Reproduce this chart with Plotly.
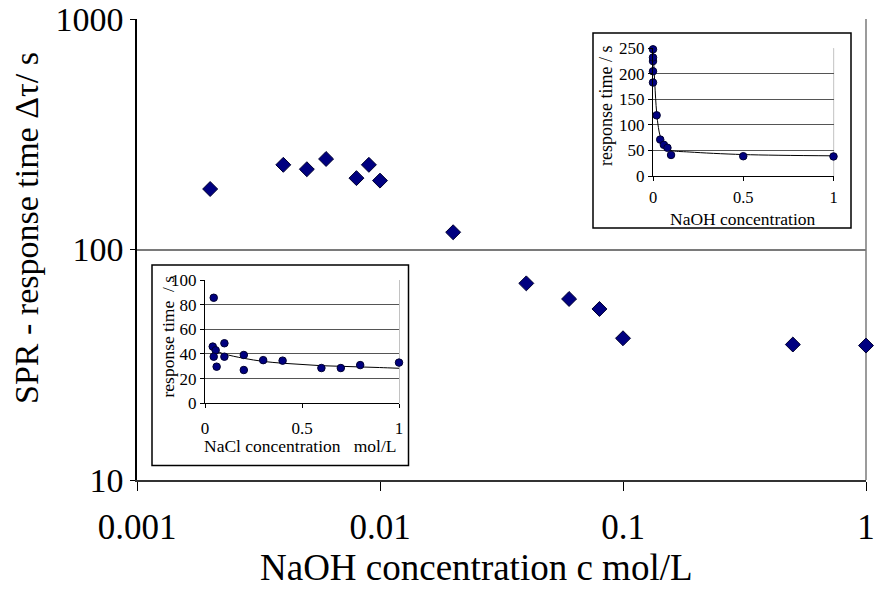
import plotly.graph_objects as go

# ---------------- data ----------------
# Main chart (log-log): NaOH concentration (mol/L) vs SPR response time (s)
naoh_conc = [0.002, 0.004, 0.005, 0.006, 0.008, 0.009, 0.01, 0.02, 0.04, 0.06, 0.08, 0.1, 0.5, 1.0]
naoh_time = [183, 233, 223, 247, 204, 233, 199, 118.8, 71.3, 61, 55.2, 41.2, 38.7, 38.3]

naoh_inset_conc = [0.0, 0.0, 0.0, 0.0, 0.0] + naoh_conc[7:]
naoh_inset_time = [183, 205, 225, 232, 248] + naoh_time[7:]
naoh_trend_x = [0.0, 0.005, 0.01, 0.02, 0.03, 0.04, 0.06, 0.08, 0.1, 0.2, 0.5, 1.0]
naoh_trend_y = [250, 215, 180, 125, 95, 78, 62, 54, 50, 47, 42, 39.5]

# NaCl inset (linear)
nacl_conc = [0.045, 0.04, 0.055, 0.045, 0.06, 0.1, 0.1, 0.2, 0.2, 0.3, 0.4, 0.6, 0.7, 0.8, 1.0]
nacl_time = [85.6, 46, 43, 37.8, 29.7, 48.7, 37.8, 39.2, 27, 35, 34.6, 28.6, 28.6, 31, 33]
nacl_trend_x = [0.02, 0.05, 0.1, 0.2, 0.3, 0.4, 0.5, 0.6, 0.7, 0.8, 0.9, 1.0]
nacl_trend_y = [46, 43, 40, 36.5, 34, 32.5, 31.5, 30.5, 30, 29.5, 29, 28.4]

main_xticks = [0.001, 0.01, 0.1, 1]
main_xticktext = ["0.001", "0.01", "0.1", "1"]
main_yticks = [10, 100, 1000]
main_yticktext = ["10", "100", "1000"]
naoh_yticks = [0, 50, 100, 150, 200, 250]
nacl_yticks = [0, 20, 40, 60, 80, 100]
inset_xticks = [0, 0.5, 1]
inset_xticktext = ["0", "0.5", "1"]

# ---------------- layout helpers ----------------
W, H = 874, 594
FONT = "Liberation Serif, Times New Roman, serif"
NAVY = "#000080"


def px(x):
    return x / W


def py(y):
    return 1 - y / H


fig = go.Figure()

# main scatter
fig.add_trace(go.Scatter(
    x=naoh_conc, y=naoh_time, mode="markers",
    marker=dict(symbol="diamond", size=11.5, color=NAVY, line=dict(color="#000030", width=1)),
    xaxis="x", yaxis="y", showlegend=False, cliponaxis=False))

# NaOH inset
fig.add_trace(go.Scatter(
    x=naoh_trend_x, y=naoh_trend_y, mode="lines", line=dict(color="#000000", width=1, shape="spline"),
    xaxis="x2", yaxis="y2", showlegend=False))
fig.add_trace(go.Scatter(
    x=naoh_inset_conc, y=naoh_inset_time, mode="markers",
    marker=dict(symbol="circle", size=7.5, color=NAVY, line=dict(color="#000030", width=1)),
    xaxis="x2", yaxis="y2", showlegend=False, cliponaxis=False))

# NaCl inset
fig.add_trace(go.Scatter(
    x=nacl_trend_x, y=nacl_trend_y, mode="lines", line=dict(color="#000000", width=1, shape="spline"),
    xaxis="x3", yaxis="y3", showlegend=False))
fig.add_trace(go.Scatter(
    x=nacl_conc, y=nacl_time, mode="markers",
    marker=dict(symbol="circle", size=7.5, color=NAVY, line=dict(color="#000030", width=1)),
    xaxis="x3", yaxis="y3", showlegend=False, cliponaxis=False))

GRID = "#7a7a7a"

layout = dict(
    width=W, height=H,
    margin=dict(l=0, r=0, t=0, b=0, autoexpand=False),
    paper_bgcolor="white", plot_bgcolor="white",
    font=dict(family=FONT, color="black"),
    # main axes
    xaxis=dict(type="log", range=[-3, 0], domain=[px(137), px(866)], anchor="y", automargin=False,
               tickvals=main_xticks, ticktext=main_xticktext,
               ticks="outside", ticklen=9, tickcolor="black", tickwidth=1,
               ticklabeloverflow="allow", ticklabelstandoff=6,
               showline=True, linecolor="#333333", linewidth=1.5,
               showgrid=False, zeroline=False,
               tickfont=dict(family=FONT, size=35, color="black")),
    yaxis=dict(type="log", range=[1, 3], domain=[py(480), py(19)], anchor="x", automargin=False,
               tickvals=main_yticks, ticktext=main_yticktext,
               ticks="outside", ticklen=5, tickcolor="black", tickwidth=1,
               showline=True, linecolor="black", linewidth=1.5,
               showgrid=True, gridcolor=GRID, gridwidth=1.5, zeroline=False,
               tickfont=dict(family=FONT, size=34, color="black")),
    # NaOH inset
    xaxis2=dict(range=[0, 1], domain=[px(653), px(833.5)], anchor="y2", automargin=False,
                tickvals=inset_xticks, ticktext=inset_xticktext,
                ticks="outside", ticklen=4, tickcolor="black", ticklabelstandoff=2,
                showline=True, linecolor="black", linewidth=1,
                showgrid=False, zeroline=False,
                tickfont=dict(family=FONT, size=16.5, color="black")),
    yaxis2=dict(range=[0, 250], domain=[py(176), py(48.3)], anchor="x2", automargin=False,
                tickvals=naoh_yticks,
                ticks="outside", ticklen=4, tickcolor="black",
                showline=True, linecolor="black", linewidth=1,
                showgrid=True, gridcolor="#555555", gridwidth=1.2, zeroline=False,
                tickfont=dict(family=FONT, size=17, color="black")),
    # NaCl inset
    xaxis3=dict(range=[0, 1], domain=[px(205), px(399)], anchor="y3", automargin=False,
                tickvals=inset_xticks, ticktext=inset_xticktext,
                ticks="outside", ticklen=4, tickcolor="black", ticklabelstandoff=5,
                showline=True, linecolor="black", linewidth=1,
                showgrid=False, zeroline=False,
                tickfont=dict(family=FONT, size=17, color="black")),
    yaxis3=dict(range=[0, 100], domain=[py(403.3), py(280)], anchor="x3", automargin=False,
                tickvals=nacl_yticks,
                ticks="outside", ticklen=4, tickcolor="black",
                showline=True, linecolor="black", linewidth=1,
                showgrid=True, gridcolor="#555555", gridwidth=1.2, zeroline=False,
                tickfont=dict(family=FONT, size=17, color="black")),
)
fig.update_layout(**layout)

shapes = [
    # main right border (gray)
    dict(type="line", xref="paper", yref="paper", x0=px(866), x1=px(866), y0=py(480), y1=py(19),
         line=dict(color=GRID, width=1.5), layer="below"),
    # inset boxes
    dict(type="rect", xref="paper", yref="paper", x0=px(593), x1=px(851), y0=py(228), y1=py(33),
         line=dict(color="black", width=1.5), fillcolor="white", layer="below"),
    dict(type="rect", xref="paper", yref="paper", x0=px(152), x1=px(408.5), y0=py(465.5), y1=py(265),
         line=dict(color="black", width=1.5), fillcolor="white", layer="below"),
    # inset right borders (gray)
    dict(type="line", xref="paper", yref="paper", x0=px(833.5), x1=px(833.5), y0=py(176), y1=py(48.3),
         line=dict(color="#999999", width=1.2), layer="below"),
    dict(type="line", xref="paper", yref="paper", x0=px(399), x1=px(399), y0=py(403.3), y1=py(280),
         line=dict(color="#999999", width=1.2), layer="below"),
]

annotations = [
    dict(text="SPR - response time Δτ/ s", x=px(26), y=py(228), xref="paper", yref="paper",
         textangle=-90, showarrow=False, font=dict(family=FONT, size=34, color="black"),
         xanchor="center", yanchor="middle"),
    dict(text="NaOH concentration c mol/L", x=px(476), y=py(567), xref="paper", yref="paper",
         showarrow=False, font=dict(family=FONT, size=37, color="black"),
         xanchor="center", yanchor="middle"),
    dict(text="NaOH concentration", x=px(743), y=py(218.5), xref="paper", yref="paper",
         showarrow=False, font=dict(family=FONT, size=17.5, color="black"),
         xanchor="center", yanchor="middle", borderpad=0),
    dict(text="response time / s", x=px(606), y=py(106), xref="paper", yref="paper",
         textangle=-90, showarrow=False, font=dict(family=FONT, size=18, color="black"),
         xanchor="center", yanchor="middle"),
    dict(text="NaCl concentration\u00a0\u00a0\u00a0mol/L", x=px(300), y=py(446), xref="paper", yref="paper",
         showarrow=False, font=dict(family=FONT, size=17.5, color="black"),
         xanchor="center", yanchor="middle"),
    dict(text="response time\u00a0\u00a0/ s", x=px(167.5), y=py(337), xref="paper", yref="paper",
         textangle=-90, showarrow=False, font=dict(family=FONT, size=17.5, color="black"),
         xanchor="center", yanchor="middle"),
]

fig.update_layout(shapes=shapes, annotations=annotations)

fig.write_html("out.html")
